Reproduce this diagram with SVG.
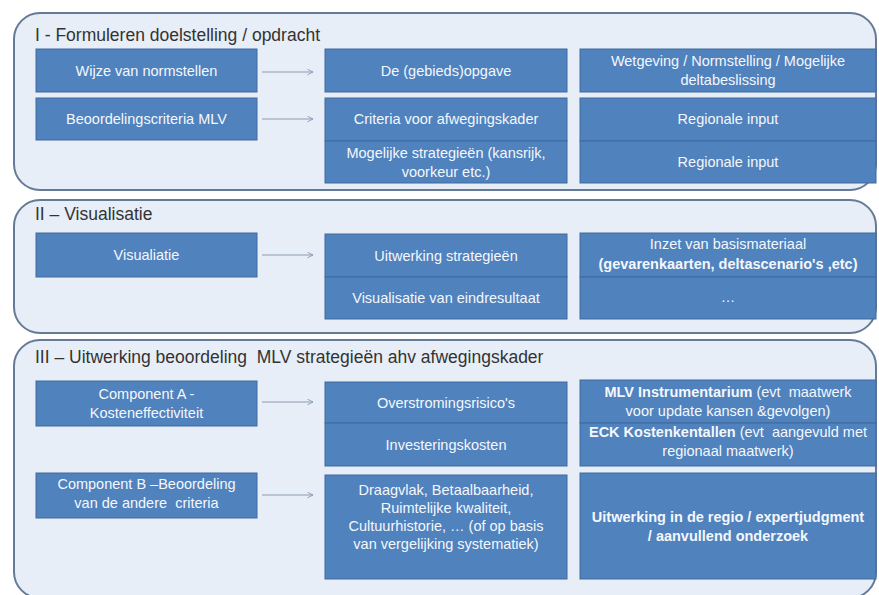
<svg xmlns="http://www.w3.org/2000/svg" width="879" height="595" viewBox="0 0 879 595">
<defs>
<marker id="arr" viewBox="0 0 10 10" refX="9" refY="5" markerWidth="7" markerHeight="7" orient="auto" markerUnits="userSpaceOnUse">
<path d="M1,1 L9,5 L1,9" fill="none" stroke="#8c9cb4" stroke-width="1.3"/>
</marker>
<style>
.panel{fill:#e7eef7;stroke:#647a97;stroke-width:2}
.box{fill:#5082be;stroke:#3e6a9e;stroke-width:1}
.t{font-family:"Liberation Sans",Arial,sans-serif;font-size:14.5px;fill:#f4f7fb;text-anchor:middle;white-space:pre}
.b{font-weight:bold}
.title{font-family:"Liberation Sans",Arial,sans-serif;font-size:17.5px;fill:#333333;white-space:pre}
.con{stroke:#8c9cb4;stroke-width:1.2;fill:none}
</style>
</defs>
<rect width="879" height="595" fill="#ffffff"/>

<g id="panel1">
<rect class="panel" x="14" y="13" width="862" height="177" rx="26" ry="26"/>
<text class="title" x="35" y="41">I - Formuleren doelstelling / opdracht</text>
</g>
<g id="panel2">
<rect class="panel" x="14" y="200" width="862" height="133" rx="26" ry="26"/>
<text class="title" x="35" y="220">II – Visualisatie</text>
</g>
<g id="panel3">
<rect class="panel" x="14" y="340" width="862" height="258" rx="26" ry="26"/>
<text class="title" x="35" y="363">III – Uitwerking beoordeling  MLV strategieën ahv afwegingskader</text>
</g>

<g id="n-wijze"><rect class="box" x="36" y="49" width="221" height="43"/><text class="t" x="146.5" y="76">Wijze van normstellen</text></g>
<g id="n-opgave"><rect class="box" x="325" y="49" width="242" height="43"/><text class="t" x="446" y="76">De (gebieds)opgave</text></g>
<g id="n-wetgeving"><rect class="box" x="580" y="49" width="296" height="43"/><text class="t" x="728" y="66">Wetgeving / Normstelling / Mogelijke</text><text class="t" x="728" y="85">deltabeslissing</text></g>

<g id="n-beoordeling"><rect class="box" x="36" y="98" width="221" height="42"/><text class="t" x="146.5" y="124">Beoordelingscriteria MLV</text></g>
<g id="n-criteria"><rect class="box" x="325" y="98" width="242" height="43"/><text class="t" x="446" y="124">Criteria voor afwegingskader</text></g>
<g id="n-mogelijke"><rect class="box" x="325" y="141" width="242" height="42"/><text class="t" x="446" y="158">Mogelijke strategieën (kansrijk,</text><text class="t" x="446" y="177">voorkeur etc.)</text></g>
<g id="n-regio1"><rect class="box" x="580" y="98" width="296" height="43"/><text class="t" x="728" y="124">Regionale input</text></g>
<g id="n-regio2"><rect class="box" x="580" y="141" width="296" height="42"/><text class="t" x="728" y="167">Regionale input</text></g>

<g id="n-visualiatie"><rect class="box" x="36" y="233" width="221" height="44"/><text class="t" x="146.5" y="260">Visualiatie</text></g>
<g id="n-uitwerking"><rect class="box" x="325" y="234" width="242" height="43"/><text class="t" x="446" y="261">Uitwerking strategieën</text></g>
<g id="n-visres"><rect class="box" x="325" y="277" width="242" height="42"/><text class="t" x="446" y="303">Visualisatie van eindresultaat</text></g>
<g id="n-inzet"><rect class="box" x="580" y="233" width="296" height="44"/><text class="t" x="728" y="249">Inzet van basismateriaal</text><text class="t b" x="728" y="269">(gevarenkaarten, deltascenario's ,etc)</text></g>
<g id="n-dots"><rect class="box" x="580" y="277" width="296" height="42"/><text class="t" x="728" y="302">…</text></g>

<g id="n-compA"><rect class="box" x="36" y="381" width="221" height="45"/><text class="t" x="146.5" y="399">Component A -</text><text class="t" x="146.5" y="418">Kosteneffectiviteit</text></g>
<g id="n-overstroming"><rect class="box" x="325" y="382" width="242" height="41"/><text class="t" x="446" y="408">Overstromingsrisico's</text></g>
<g id="n-investering"><rect class="box" x="325" y="423" width="242" height="43"/><text class="t" x="446" y="450">Investeringskosten</text></g>
<g id="n-mlv"><rect class="box" x="580" y="380" width="296" height="43"/><text class="t" x="728" y="397"><tspan class="b">MLV Instrumentarium</tspan> (evt  maatwerk</text><text class="t" x="728" y="416">voor update kansen &amp;gevolgen)</text></g>
<g id="n-eck"><rect class="box" x="580" y="423" width="296" height="43"/><text class="t" x="728" y="437"><tspan class="b">ECK Kostenkentallen</tspan> (evt  aangevuld met</text><text class="t" x="728" y="456">regionaal maatwerk)</text></g>

<g id="n-compB"><rect class="box" x="36" y="473" width="221" height="45"/><text class="t" x="146.5" y="489">Component B –Beoordeling</text><text class="t" x="146.5" y="508">van de andere  criteria</text></g>
<g id="n-draagvlak"><rect class="box" x="325" y="475" width="242" height="104"/><text class="t" x="446" y="495">Draagvlak, Betaalbaarheid,</text><text class="t" x="446" y="513">Ruimtelijke kwaliteit,</text><text class="t" x="446" y="531">Cultuurhistorie, … (of op basis</text><text class="t" x="446" y="549">van vergelijking systematiek)</text></g>
<g id="n-regio3"><rect class="box" x="580" y="473" width="296" height="106"/><text class="t b" x="728" y="522">Uitwerking in de regio / expertjudgment</text><text class="t b" x="728" y="541">/ aanvullend onderzoek</text></g>

<g id="connectors">
<line class="con" x1="262" y1="72" x2="313" y2="72" marker-end="url(#arr)"/>
<line class="con" x1="262" y1="119" x2="313" y2="119" marker-end="url(#arr)"/>
<line class="con" x1="262" y1="255" x2="313" y2="255" marker-end="url(#arr)"/>
<line class="con" x1="262" y1="402" x2="313" y2="402" marker-end="url(#arr)"/>
<line class="con" x1="262" y1="495" x2="313" y2="495" marker-end="url(#arr)"/>
</g>
</svg>
